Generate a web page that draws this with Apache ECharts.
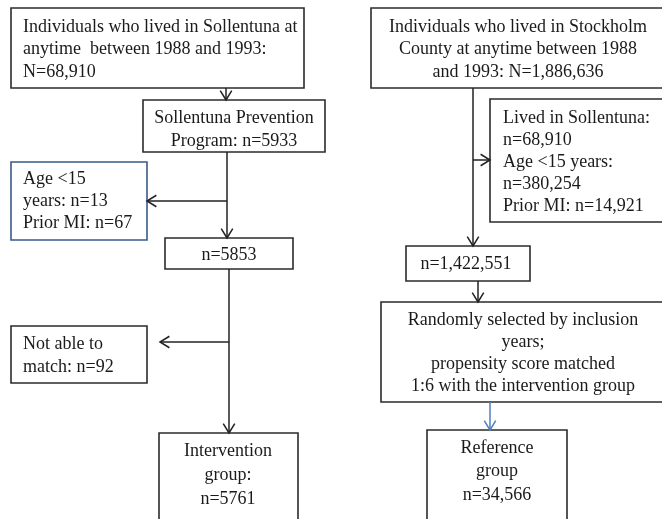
<!DOCTYPE html>
<html lang="en">
<head>
    <meta charset="UTF-8">
    <title>Flow chart</title>
    <script src="https://cdn.jsdelivr.net/npm/echarts@6/dist/echarts.min.js"></script>
    <style>
        html, body {margin: 0; padding: 0; background: #fff;}
        #flow {width: 662px; height: 519px;}
    </style>
</head>
<body>
<div id="flow"></div>
<script>
    // box texts (one entry per line)
    var leftTop = ['Individuals who lived in Sollentuna at', 'anytime  between 1988 and 1993:', 'N=68,910'];
    var sppText = ['Sollentuna Prevention', 'Program: n=5933'];
    var ageText = ['Age <15', 'years: n=13', 'Prior MI: n=67'];
    var afterExcl = ['n=5853'];
    var noMatch = ['Not able to', 'match: n=92'];
    var interv = ['Intervention', 'group:', 'n=5761'];
    var rightTop = ['Individuals who lived in Stockholm', 'County at anytime between 1988', 'and 1993: N=1,886,636'];
    var rightExcl = ['Lived in Sollentuna:', 'n=68,910', 'Age <15 years:', 'n=380,254', 'Prior MI: n=14,921'];
    var afterRight = ['n=1,422,551'];
    var randText = ['Randomly selected by inclusion', 'years;', 'propensity score matched', '1:6 with the intervention group'];
    var refText = ['Reference', 'group', 'n=34,566'];

    // layout: [x, y, w, h], align, first line y, line step, border colour
    var boxes = [
        {lines: leftTop,    r: [11, 8, 293, 80],    align: 'left',   tx: 23,  ty: 27,  step: 22.5},
        {lines: sppText,    r: [143, 100, 182, 52], align: 'center', tx: 234, ty: 118, step: 23},
        {lines: ageText,    r: [11, 162, 136, 78],  align: 'left',   tx: 23,  ty: 179, step: 22, color: '#3a5a8c'},
        {lines: afterExcl,  r: [165, 238, 128, 31], align: 'center', tx: 229, ty: 255, step: 22},
        {lines: noMatch,    r: [11, 326, 136, 57],  align: 'left',   tx: 23,  ty: 344, step: 23},
        {lines: interv,     r: [159, 433, 139, 100], align: 'center', tx: 228, ty: 451, step: 24},
        {lines: rightTop,   r: [371, 8, 310, 80],   align: 'center', tx: 518, ty: 27,  step: 22.5},
        {lines: rightExcl,  r: [490, 99, 200, 123], align: 'left',   tx: 503, ty: 118, step: 22},
        {lines: afterRight, r: [406, 246, 124, 35], align: 'center', tx: 466, ty: 264, step: 22},
        {lines: randText,   r: [381, 302, 300, 100], align: 'center', tx: 523, ty: 320, step: 22},
        {lines: refText,    r: [427, 430, 140, 100], align: 'center', tx: 497, ty: 448, step: 23.5}
    ];

    // connectors: [x1, y1, x2, y2, arrow?, colour]
    var links = [
        [226, 88, 226, 100, true],
        [227, 152, 227, 238, true],
        [227, 201, 147, 201, true],
        [229, 269, 229, 433, true],
        [229, 342, 160, 342, true],
        [473, 88, 473, 246, true],
        [473, 160, 490, 160, true],
        [478, 281, 478, 302, true],
        [490, 402, 490, 430, true, '#4f81bd']
    ];

    var ink = '#1a1a1a';
    var graphic = [];

    boxes.forEach(function (b) {
        graphic.push({
            type: 'rect',
            shape: {x: b.r[0], y: b.r[1], width: b.r[2], height: b.r[3]},
            style: {fill: '#fff', stroke: b.color || '#2b2b2b', lineWidth: 1.6}
        });
        b.lines.forEach(function (t, i) {
            graphic.push({
                type: 'text',
                x: b.tx,
                y: b.ty + i * b.step,
                style: {
                    text: t,
                    fill: ink,
                    font: '18px "Liberation Serif", "DejaVu Serif", serif',
                    align: b.align,
                    verticalAlign: 'middle'
                }
            });
        });
    });

    links.forEach(function (l) {
        var col = l[5] || '#222';
        graphic.push({
            type: 'line',
            shape: {x1: l[0], y1: l[1], x2: l[2], y2: l[3]},
            style: {stroke: col, lineWidth: 1.5}
        });
        if (l[4]) {
            // open arrow head
            var ang = Math.atan2(l[3] - l[1], l[2] - l[0]);
            var len = 11, spread = 0.55;
            var p1 = [l[2] - len * Math.cos(ang - spread), l[3] - len * Math.sin(ang - spread)];
            var p2 = [l[2] - len * Math.cos(ang + spread), l[3] - len * Math.sin(ang + spread)];
            graphic.push({
                type: 'polyline',
                shape: {points: [p1, [l[2], l[3]], p2]},
                style: {stroke: col, lineWidth: 1.5, fill: null}
            });
        }
    });

    var chart = echarts.init(document.getElementById('flow'));
    chart.setOption({
        backgroundColor: '#fff',
        animation: false,
        graphic: graphic
    });
</script>
</body>
</html>
